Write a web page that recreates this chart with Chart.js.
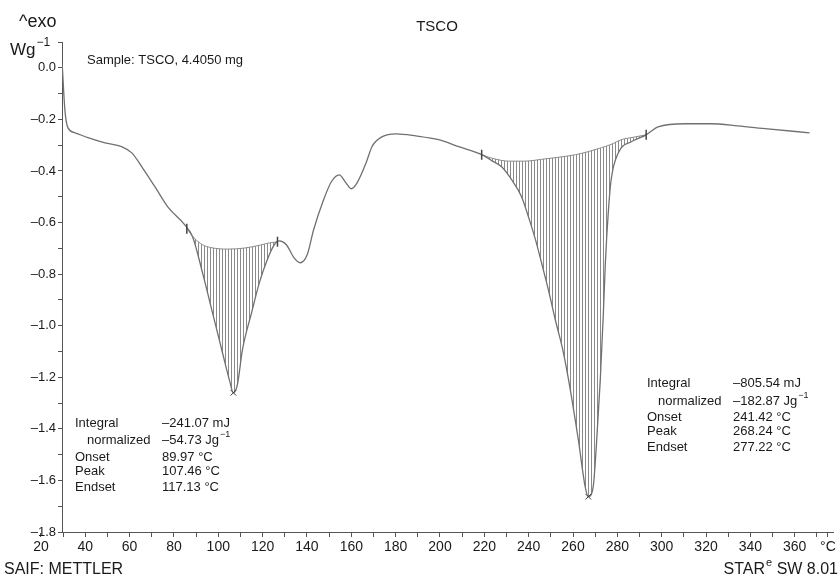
<!DOCTYPE html>
<html>
<head>
<meta charset="utf-8">
<script src="https://cdn.jsdelivr.net/npm/chart.js@4.4.1/dist/chart.umd.min.js"></script>
<style>
  html, body { margin: 0; padding: 0; background: #fff; }
  #wrap { width: 840px; height: 581px; }
</style>
</head>
<body>
<div id="wrap"><canvas id="c" width="840" height="581"></canvas></div>
<script>
// ---- Data ----
const chartTitle = 'TSCO';
const tempC = [29.6, 30.8, 32.2, 35.4, 41.2, 48.9, 56.4, 61.0, 65.5, 71.4, 77.2, 84.9, 88.4, 92.9, 97.4, 101.9, 105.0, 106.8, 108.6, 110.9, 115.0, 118.5, 122.1, 125.3, 127.5, 130.7, 134.2, 136.9, 140.1, 143.0, 147.5, 151.0, 154.5, 157.6, 159.9, 162.6, 166.7, 169.3, 173.8, 180.2, 189.1, 199.4, 208.5, 218.8, 223.3, 227.8, 232.3, 236.8, 239.9, 243.1, 245.8, 248.9, 252.1, 255.3, 258.0, 262.4, 265.5, 266.9, 269.1, 270.5, 272.3, 273.7, 274.6, 275.9, 277.2, 280.4, 286.3, 293.0, 298.4, 310.6, 322.2, 334.3, 347.8, 366.7];
const heatFlow = [0.012, -0.163, -0.233, -0.252, -0.271, -0.291, -0.306, -0.330, -0.384, -0.461, -0.539, -0.609, -0.655, -0.795, -0.950, -1.105, -1.210, -1.260, -1.229, -1.093, -0.950, -0.834, -0.744, -0.686, -0.671, -0.686, -0.737, -0.756, -0.725, -0.628, -0.512, -0.442, -0.415, -0.446, -0.469, -0.446, -0.368, -0.306, -0.268, -0.256, -0.264, -0.279, -0.306, -0.337, -0.360, -0.384, -0.434, -0.500, -0.578, -0.667, -0.756, -0.861, -0.980, -1.090, -1.210, -1.442, -1.625, -1.663, -1.625, -1.470, -1.210, -0.950, -0.756, -0.562, -0.434, -0.330, -0.287, -0.260, -0.229, -0.217, -0.217, -0.225, -0.237, -0.252];

const base1T = [85.8, 89.1, 92.9, 96.6, 100.6, 104.4, 108.2, 111.8, 115.4, 119.2, 123.0, 126.7];
const base1Y = [-0.624, -0.660, -0.686, -0.697, -0.702, -0.703, -0.702, -0.699, -0.694, -0.687, -0.679, -0.675];
const base2T = [218.8, 223.3, 231.0, 238.2, 245.8, 253.4, 261.1, 266.9, 272.8, 277.5, 281.7, 287.4, 293.0];
const base2Y = [-0.337, -0.350, -0.362, -0.362, -0.355, -0.347, -0.337, -0.325, -0.310, -0.296, -0.279, -0.269, -0.260];

const limitT = [85.8, 126.7, 218.8, 293.0];
const limitY = [-0.624, -0.675, -0.337, -0.260];
const peakT = [106.8, 266.9];
const peakY = [-1.260, -1.663];

const xTickLabels = [20, 40, 60, 80, 100, 120, 140, 160, 180, 200, 220, 240, 260, 280, 300, 320, 340, 360];
const yTickLabels = [0.0, -0.2, -0.4, -0.6, -0.8, -1.0, -1.2, -1.4, -1.6, -1.8];

const peak1Text = { labels: ['Integral', 'normalized', 'Onset', 'Peak', 'Endset'],
  values: ['\u2013241.07 mJ', '\u201354.73 Jg', '89.97 \u00b0C', '107.46 \u00b0C', '117.13 \u00b0C'] };
const peak2Text = { labels: ['Integral', 'normalized', 'Onset', 'Peak', 'Endset'],
  values: ['\u2013805.54 mJ', '\u2013182.87 Jg', '241.42 \u00b0C', '268.24 \u00b0C', '277.22 \u00b0C'] };

// ---- helpers ----
const zip = (xs, ys) => xs.map((x, i) => ({ x: x, y: ys[i] }));
const FONT = '"Liberation Sans", Arial, Helvetica, sans-serif';
const X_MIN = 29.5, X_MAX = 377.5, X_UNIT_TICK = 375;

function hatchPattern() {
  const c = document.createElement('canvas');
  c.width = 3; c.height = 8;
  const g = c.getContext('2d');
  g.clearRect(0, 0, 3, 8);
  g.fillStyle = '#8a8a8a';
  g.fillRect(0, 0, 1, 8);
  return g.createPattern(c, 'repeat');
}
const hatch = hatchPattern();

const textPlugin = {
  id: 'textPlugin',
  afterDraw(chart) {
    const ctx = chart.ctx;
    ctx.save();
    ctx.fillStyle = '#1a1a1a';
    ctx.textBaseline = 'middle';
    ctx.textAlign = 'left';

    function sup(x, y, base, s, size) {
      ctx.font = size + 'px ' + FONT;
      ctx.fillText(base, x, y);
      const w = ctx.measureText(base).width;
      ctx.font = Math.round(size * 0.72) + 'px ' + FONT;
      ctx.fillText(s, x + w + 1, y - size * 0.45);
      return x + w + 1 + ctx.measureText(s).width;
    }

    // title
    ctx.font = '15px ' + FONT;
    ctx.textAlign = 'center';
    ctx.fillText(chartTitle, 437, 27);
    ctx.textAlign = 'left';

    // y-axis unit
    ctx.font = '18px ' + FONT;
    ctx.fillText('^exo', 19, 22);
    sup(10, 50, 'Wg', '\u22121', 17);

    // sample
    ctx.font = '13px ' + FONT;
    ctx.fillText('Sample: TSCO, 4.4050 mg', 87, 60);

    function block(t, lx, nx, vx, rows) {
      for (let i = 0; i < 5; i++) {
        ctx.font = '13px ' + FONT;
        ctx.fillText(t.labels[i], i === 1 ? nx : lx, rows[i]);
        if (i === 1) sup(vx, rows[i], t.values[i], '\u22121', 13);
        else { ctx.font = '13px ' + FONT; ctx.fillText(t.values[i], vx, rows[i]); }
      }
    }
    block(peak1Text, 75, 87, 162, [423, 440, 457, 471, 487]);
    block(peak2Text, 647, 658, 733, [383, 401, 417, 431, 447]);

    // footer
    ctx.font = '16px ' + FONT;
    ctx.fillText('SAIF: METTLER', 4, 570);
    const w1 = ctx.measureText('STAR').width;
    const w3 = ctx.measureText(' SW 8.01').width;
    ctx.font = '11px ' + FONT;
    const w2 = ctx.measureText('e').width;
    const x0 = 838 - (w1 + w2 + 1 + w3);
    ctx.font = '16px ' + FONT;
    ctx.fillText('STAR', x0, 570);
    ctx.font = '11px ' + FONT;
    ctx.fillText('e', x0 + w1 + 1, 563);
    ctx.font = '16px ' + FONT;
    ctx.fillText(' SW 8.01', x0 + w1 + w2 + 1, 570);
    ctx.restore();
  }
};

const lineColor = '#707070';

new Chart(document.getElementById('c'), {
  type: 'line',
  data: {
    datasets: [
      { label: 'TSCO', data: zip(tempC, heatFlow), borderColor: lineColor, borderWidth: 1.3,
        pointRadius: 0, fill: false, cubicInterpolationMode: 'monotone', order: 1 },
      { label: 'baseline 1', data: zip(base1T, base1Y), borderColor: '#8a8a8a', borderWidth: 1,
        pointRadius: 0, fill: { target: 0 }, backgroundColor: hatch, cubicInterpolationMode: 'monotone', order: 2 },
      { label: 'baseline 2', data: zip(base2T, base2Y), borderColor: '#8a8a8a', borderWidth: 1,
        pointRadius: 0, fill: { target: 0 }, backgroundColor: hatch, cubicInterpolationMode: 'monotone', order: 2 },
      { label: 'limits', data: zip(limitT, limitY), showLine: false, pointStyle: 'line', rotation: 90,
        pointRadius: 5, borderColor: '#444', pointBorderWidth: 1.5, fill: false, order: 0 },
      { label: 'peaks', data: zip(peakT, peakY), showLine: false, pointStyle: 'crossRot',
        pointRadius: 4, borderColor: '#444', pointBorderWidth: 1, fill: false, order: 0 }
    ]
  },
  options: {
    responsive: false,
    animation: false,
    layout: { padding: { left: 0, right: 4, top: 42, bottom: 0 } },
    plugins: {
      legend: { display: false },
      tooltip: { enabled: false },
      title: { display: false }
    },
    scales: {
      x: {
        type: 'linear', min: X_MIN, max: X_MAX,
        border: { display: true, color: '#555', width: 1 },
        grid: { display: true, drawOnChartArea: false, drawTicks: true, tickLength: 5, color: '#555' },
        afterBuildTicks(scale) {
          const t = [];
          xTickLabels.forEach(v => t.push({ value: v }));
          for (let v = 30; v <= 370; v += 20) t.push({ value: v });
          t.push({ value: X_UNIT_TICK });
          t.sort((a, b) => a.value - b.value);
          scale.ticks = t;
        },
        afterFit(scale) { scale.height = 49; },
        ticks: {
          autoSkip: false, maxRotation: 0, padding: 2, color: '#1a1a1a',
          font: { family: FONT, size: 14 },
          callback(v) {
            if (v === X_UNIT_TICK) return '\u00b0C';
            return xTickLabels.includes(v) ? String(v) : '';
          }
        }
      },
      y: {
        type: 'linear', min: -1.8, max: 0.1,
        border: { display: true, color: '#555', width: 1 },
        grid: { display: true, drawOnChartArea: false, drawTicks: true, tickLength: 4, color: '#555' },
        afterBuildTicks(scale) {
          const t = [];
          for (let i = 1; i >= -18; i--) t.push({ value: i / 10 });
          scale.ticks = t;
        },
        afterFit(scale) { scale.width = 62; },
        ticks: {
          autoSkip: false, padding: 2, color: '#1a1a1a',
          font: { family: FONT, size: 13 },
          callback(v) {
            const r = Math.round(v * 10) / 10;
            const hit = yTickLabels.some(l => Math.abs(l - r) < 1e-9);
            if (!hit) return '';
            return r === 0 ? '0.0' : '\u2013' + Math.abs(r).toFixed(1);
          }
        }
      }
    }
  },
  plugins: [textPlugin]
});
</script>
</body>
</html>
